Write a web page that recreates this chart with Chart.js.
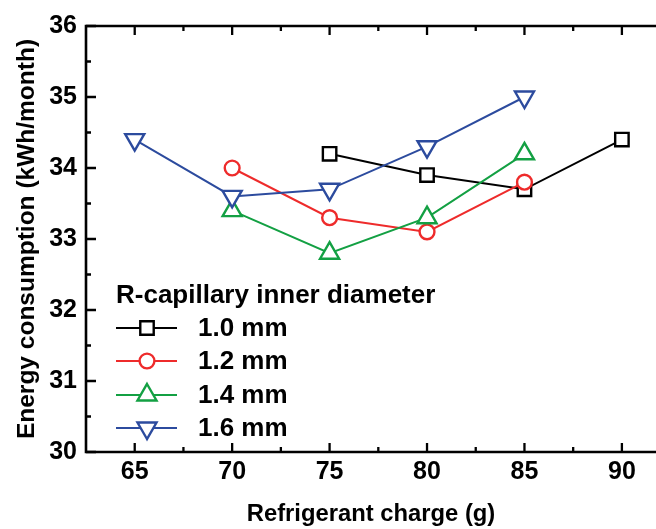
<!DOCTYPE html>
<html>
<head>
<meta charset="utf-8">
<script src="https://cdn.jsdelivr.net/npm/chart.js@4.4.1/dist/chart.umd.min.js"></script>
<style>
html, body { margin: 0; padding: 0; background: #fff; overflow: hidden; }
#wrap { width: 656px; height: 529px; }
</style>
</head>
<body>
<div id="wrap"><canvas id="chart"></canvas></div>
<script>
// axis ticks
const xTicks = [65, 70, 75, 80, 85, 90];
const yTicks = [30, 31, 32, 33, 34, 35, 36];

// series: refrigerant charge (g) vs energy consumption (kWh/month)
const seriesNames = ["1.0 mm", "1.2 mm", "1.4 mm", "1.6 mm"];
const charge10 = [75, 80, 85, 90];
const energy10 = [34.2, 33.9, 33.7, 34.4];
const charge12 = [70, 75, 80, 85];
const energy12 = [34.0, 33.3, 33.1, 33.8];
const charge14 = [70, 75, 80, 85];
const energy14 = [33.4, 32.8, 33.3, 34.2];
const charge16 = [65, 70, 75, 80, 85];
const energy16 = [34.4, 33.6, 33.7, 34.3, 35.0];

const legendTitle = "R-capillary inner diameter";

function pts(xs, ys) {
    return xs.map((x, i) => ({ x: x, y: ys[i] }));
}

const colors = ["#000000", "#ee2b2b", "#13a043", "#2c4b9e"];
const styles = [
    { pointStyle: "rect", radius: 9.5, rotation: 0 },
    { pointStyle: "circle", radius: 7.4, rotation: 0 },
    { pointStyle: "triangle", radius: 11, rotation: 0 },
    { pointStyle: "triangle", radius: 11, rotation: 180 }
];
const allData = [pts(charge10, energy10), pts(charge12, energy12), pts(charge14, energy14), pts(charge16, energy16)];

const datasets = allData.map((d, i) => ({
    label: seriesNames[i],
    data: d,
    order: 3 - i, // later series on top
    borderColor: colors[i],
    borderWidth: 2,
    backgroundColor: "#ffffff",
    pointStyle: styles[i].pointStyle,
    pointRadius: styles[i].radius,
    pointRotation: styles[i].rotation,
    pointBorderWidth: 2.4,
    pointBackgroundColor: "#ffffff",
    pointBorderColor: colors[i],
    tension: 0,
    clip: 20
}));

// frame with inward ticks, plus the in-plot legend
const framePlugin = {
    id: "frame",
    afterDatasetsDraw(chart) {
        const ctx = chart.ctx;
        const a = chart.chartArea;
        const xs = chart.scales.x, ys = chart.scales.y;
        ctx.save();
        ctx.strokeStyle = "#000";
        ctx.lineWidth = 2.6;
        ctx.beginPath();
        ctx.moveTo(a.left, a.top); ctx.lineTo(a.right + 2, a.top);
        ctx.moveTo(a.left, a.top - 1.3); ctx.lineTo(a.left, a.bottom + 1.3);
        ctx.moveTo(a.left, a.bottom); ctx.lineTo(a.right + 2, a.bottom);
        ctx.stroke();

        ctx.lineWidth = 2.3;
        ctx.beginPath();
        xTicks.forEach(v => {
            const px = xs.getPixelForValue(v);
            ctx.moveTo(px, a.bottom); ctx.lineTo(px, a.bottom - 9);
            ctx.moveTo(px, a.top); ctx.lineTo(px, a.top + 9);
            const m = xs.getPixelForValue(v - 2.5);
            if (m > a.left + 2) {
                ctx.moveTo(m, a.bottom); ctx.lineTo(m, a.bottom - 5);
                ctx.moveTo(m, a.top); ctx.lineTo(m, a.top + 5);
            }
        });
        const mLast = xs.getPixelForValue(xTicks[xTicks.length - 1] + 2.5);
        if (mLast < a.right) {
            ctx.moveTo(mLast, a.bottom); ctx.lineTo(mLast, a.bottom - 5);
            ctx.moveTo(mLast, a.top); ctx.lineTo(mLast, a.top + 5);
        }
        yTicks.forEach(v => {
            const py = ys.getPixelForValue(v);
            ctx.moveTo(a.left, py); ctx.lineTo(a.left + 10, py);
            if (v > yTicks[0]) {
                const m = ys.getPixelForValue(v - 0.5);
                ctx.moveTo(a.left, m); ctx.lineTo(a.left + 5, m);
            }
        });
        ctx.stroke();

        // legend
        ctx.fillStyle = "#000";
        ctx.font = "bold 26px 'Liberation Sans', Arial, sans-serif";
        ctx.textBaseline = "middle";
        ctx.textAlign = "left";
        ctx.fillText(legendTitle, 116, 296);
        const rows = [328, 361, 395, 428];
        datasets.forEach((ds, i) => {
            const y = rows[i];
            ctx.strokeStyle = ds.borderColor;
            ctx.lineWidth = 2;
            ctx.beginPath();
            ctx.moveTo(116, y); ctx.lineTo(177, y);
            ctx.stroke();
            ctx.fillStyle = "#fff";
            ctx.strokeStyle = ds.borderColor;
            ctx.lineWidth = 2.4;
            Chart.helpers.drawPoint(ctx, {
                pointStyle: ds.pointStyle,
                radius: ds.pointRadius,
                rotation: ds.pointRotation,
                borderWidth: 2.4
            }, 147, y);
            ctx.fillStyle = "#000";
            ctx.fillText(ds.label, 198, y + 1);
        });
        ctx.restore();
    }
};

Chart.defaults.font.family = "'Liberation Sans', Arial, sans-serif";
Chart.defaults.font.size = 24;
Chart.defaults.font.weight = "bold";
Chart.defaults.color = "#000";

new Chart(document.getElementById("chart").getContext("2d"), {
    type: "line",
    data: { datasets: datasets },
    options: {
        responsive: true,
        maintainAspectRatio: false,
        animation: false,
        devicePixelRatio: 1,
        layout: { autoPadding: false, padding: { top: 26, right: 0, left: 0, bottom: 0 } },
        plugins: { legend: { display: false }, tooltip: { enabled: false } },
        scales: {
            x: {
                type: "linear",
                min: 62.5,
                max: 91.75,
                afterBuildTicks: s => { s.ticks = xTicks.map(v => ({ value: v })); },
                afterFit: s => { s.height = 77; s.paddingRight = 0; s.paddingLeft = 0; },
                grid: { display: false, drawTicks: false },
                border: { display: false },
                ticks: { padding: 5, maxRotation: 0, font: { size: 25, weight: "bold" } },
                title: {
                    display: true,
                    text: "Refrigerant charge (g)",
                    font: { size: 23.8, weight: "bold" },
                    padding: { top: 0, bottom: 0 }
                }
            },
            y: {
                min: 30,
                max: 36,
                afterBuildTicks: s => { s.ticks = yTicks.map(v => ({ value: v })); },
                afterFit: s => { s.width = 86; },
                grid: { display: false, drawTicks: false },
                border: { display: false },
                ticks: { padding: 9, font: { size: 25, weight: "bold" } },
                title: {
                    display: true,
                    text: "Energy consumption (kWh/month)",
                    font: { size: 24.5, weight: "bold" },
                    padding: { top: 13, bottom: 0 }
                }
            }
        }
    },
    plugins: [framePlugin]
});
</script>
</body>
</html>
